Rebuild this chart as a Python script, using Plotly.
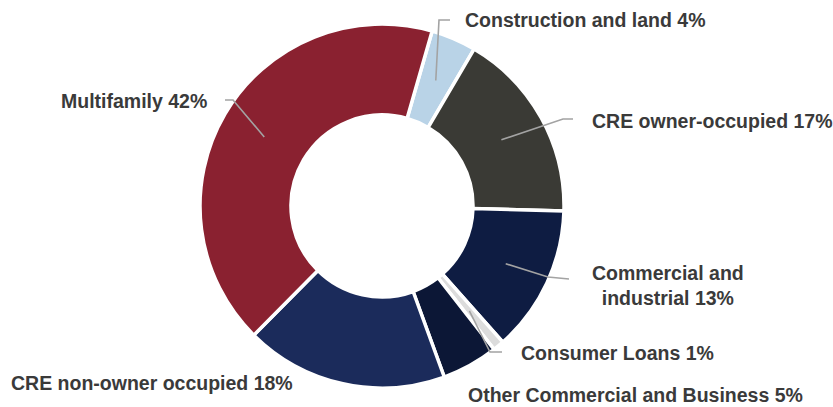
import math
import plotly.graph_objects as go

# ---- data ----
categories = ["Construction and land", "CRE owner-occupied", "Commercial and industrial",
              "Consumer Loans", "Other Commercial and Business", "CRE non-owner occupied",
              "Multifamily"]
shares = [4, 17, 13, 1, 5, 18, 42]
label_texts = ["Construction and land 4%", "CRE owner-occupied 17%",
               "Commercial and<br>industrial 13%", "Consumer Loans 1%",
               "Other Commercial and Business 5%", "CRE non-owner occupied 18%",
               "Multifamily 42%"]

# ---- styling / layout ----
colors = ["#b9d3e7", "#3a3a35", "#0e1c42", "#dcdcdc", "#0c1736", "#1b2b5b", "#8a2130"]
W, H = 833, 407
CX, CY, R = 382, 206, 182          # pie centre / radius in pixels
HOLE = 0.5
ROTATION = 16

# label placement (pixels): x, y, xanchor
label_pos = [(463, 20, "left"), (590, 121, "left"), (668, 285, "center"),
             (519, 353, "left"), (466, 395, "left"), (9, 383, "left"),
             (209, 101, "right")]
# leader line elbow/end points (pixels); None = no leader line
leader = [((439, 20), (450, 20)), ((563, 119), (573, 119)), ((548, 277), (569, 279)),
          ((490, 352), (502, 352)), None, None, ((233, 100), (225, 100))]


def px(x, y):
    return x / W, 1 - y / H


fig = go.Figure(go.Pie(
    labels=categories, values=shares, sort=False, direction="clockwise",
    rotation=ROTATION, hole=HOLE, textinfo="none", hoverinfo="label+percent",
    marker=dict(colors=colors, line=dict(color="white", width=3.5)),
    domain=dict(x=[(CX - R) / W, (CX + R) / W],
                y=[(H - CY - R) / H, (H - CY + R) / H]),
    showlegend=False,
))

total = sum(shares)
cum = 0
shapes, annotations = [], []
for i, v in enumerate(shares):
    mid = math.radians(ROTATION + (cum + v / 2) / total * 360)
    cum += v
    rm = R * (1 + HOLE) / 2
    sx, sy = CX + rm * math.sin(mid), CY - rm * math.cos(mid)
    if leader[i] is not None:
        (ex, ey), (tx, ty) = leader[i]
        pts = [px(sx, sy), px(ex, ey), px(tx, ty)]
        path = "M {} {} L {} {} L {} {}".format(pts[0][0], pts[0][1], pts[1][0], pts[1][1],
                                                  pts[2][0], pts[2][1])
        shapes.append(dict(type="path", path=path, xref="paper", yref="paper",
                           line=dict(color="#a3a3a3", width=1.6)))
    lx, ly, anc = label_pos[i]
    ax, ay = px(lx, ly)
    annotations.append(dict(x=ax, y=ay, xref="paper", yref="paper", xanchor=anc,
                            yanchor="middle", text="<b>" + label_texts[i] + "</b>",
                            showarrow=False, align="center",
                            font=dict(family="Liberation Sans, Arial", size=19.5,
                                      color="#3a3a3a")))

fig.update_layout(width=W, height=H, margin=dict(l=0, r=0, t=0, b=0),
                  paper_bgcolor="white", plot_bgcolor="white",
                  shapes=shapes, annotations=annotations)
fig.write_html("out.html", config={"displayModeBar": False},
               post_script="document.body.style.margin='0';"
                           "document.body.style.overflow='hidden';")
